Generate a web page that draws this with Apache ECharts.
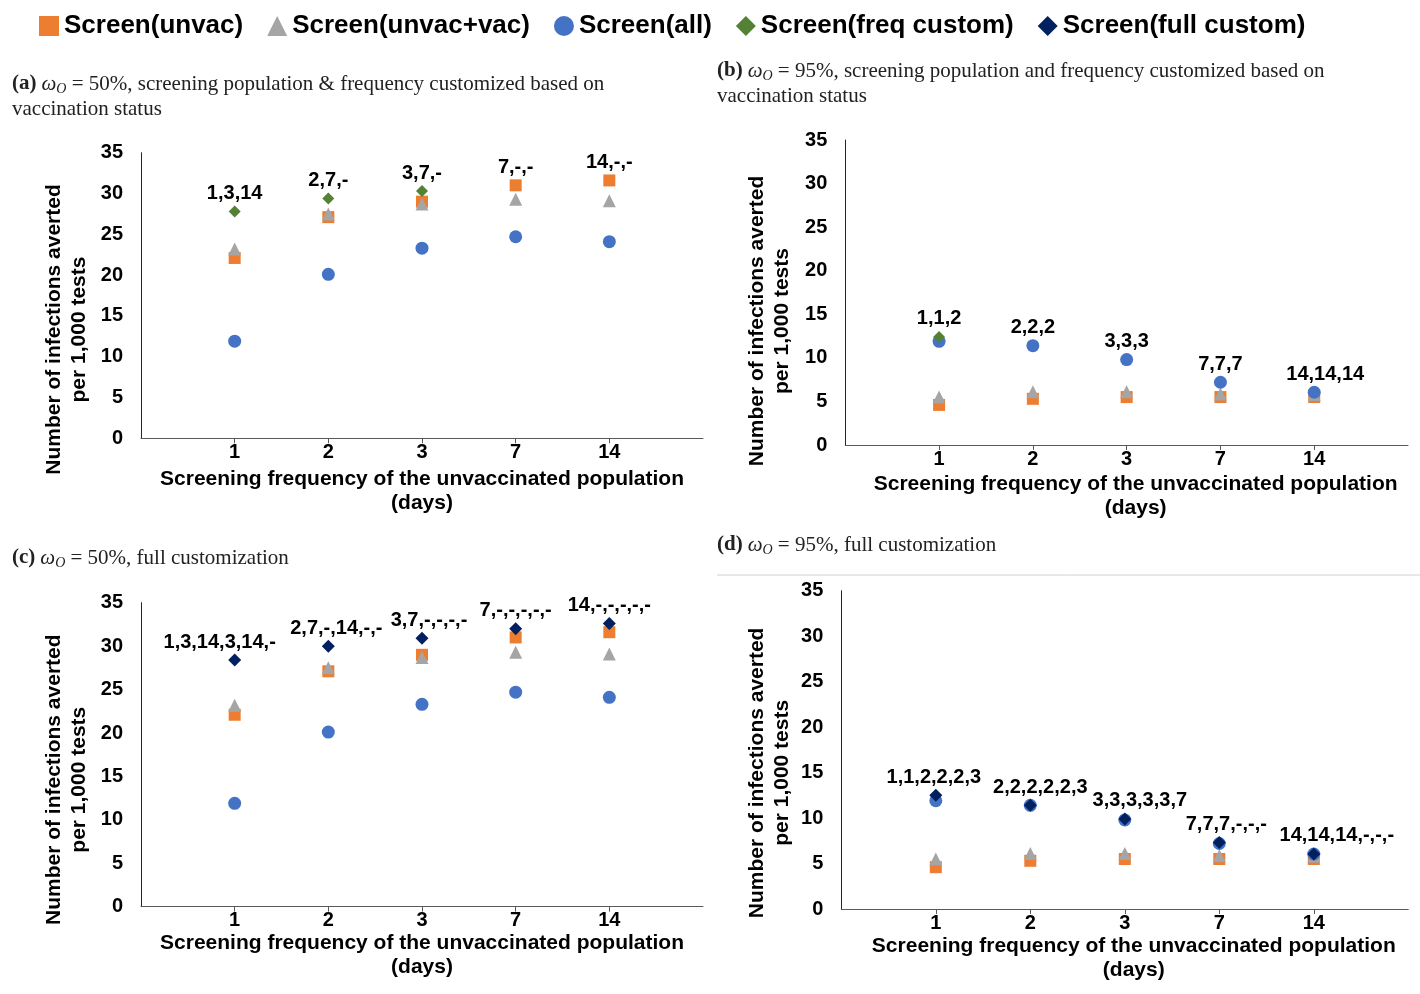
<!DOCTYPE html>
<html><head><meta charset="utf-8">
<script src="https://cdn.jsdelivr.net/npm/echarts@6/dist/echarts.min.js"></script>
<style>html,body{margin:0;padding:0;background:#fff}#c{width:1420px;height:994px}</style>
</head><body><div id="c"></div>
<script>
// ---------- data ----------
const categories = ['1', '2', '3', '7', '14'];
const seriesNames = ['Screen(unvac)', 'Screen(unvac+vac)', 'Screen(all)', 'Screen(freq custom)', 'Screen(full custom)'];

// omega_O = 50%
const unvac50 = [22.1, 27.1, 29.0, 31.0, 31.6];
const unvacVac50 = [23.2, 27.5, 28.7, 29.3, 29.1];
const all50 = [11.9, 20.1, 23.3, 24.7, 24.1];
const freqCustom50 = [27.8, 29.4, 30.3, null, null];
const fullCustom50 = [28.4, 30.0, 30.9, 32.0, 32.6];
const labelsA = ['1,3,14', '2,7,-', '3,7,-', '7,-,-', '14,-,-'];
const labelsC = ['1,3,14,3,14,-', '2,7,-,14,-,-', '3,7,-,-,-,-', '7,-,-,-,-,-', '14,-,-,-,-,-'];

// omega_O = 95%
const unvac95 = [4.6, 5.3, 5.5, 5.5, 5.5];
const unvacVac95 = [5.5, 6.1, 6.1, 5.85, 5.8];
const all95 = [11.9, 11.4, 9.8, 7.2, 6.05];
const freqCustom95 = [12.4, null, null, null, null];
const fullCustom95 = [12.5, 11.4, 9.9, 7.3, 6.05];
const labelsB = ['1,1,2', '2,2,2', '3,3,3', '7,7,7', '14,14,14'];
const labelsD = ['1,1,2,2,2,3', '2,2,2,2,2,3', '3,3,3,3,3,7', '7,7,7,-,-,-', '14,14,14,-,-,-'];

const yAxisTitle = 'Number of infections averted\nper 1,000 tests';
const xAxisTitle = 'Screening frequency of the unvaccinated population\n(days)';

// ---------- style / layout ----------
const SANS = '"Liberation Sans", Arial, sans-serif';
const SERIF = '"Liberation Serif", "Times New Roman", serif';
const colors = ['#ED7D31', '#A5A5A5', '#4472C4', '#548235', '#002060'];
const symbols = ['rect', 'triangle', 'circle', 'diamond', 'diamond'];
const symSizes = [12, 13, 13, 12, 13];

const panels = [
  { series: [unvac50, unvacVac50, all50, freqCustom50, null], labels: labelsA,
    title: { tag: '(a)', pct: '50%', rest: ', screening population & frequency customized based on', line2: 'vaccination status', left: 12, top: 71.5 },
    grid: { left: 141, top: 152.7, width: 562, height: 285.6 },
    yNameGap: 49, yNameShift: 68, xNameGap: 29, xNameShift: 0, labelDx: [0, 0, 0, 0, 0] },
  { series: [unvac95, unvacVac95, all95, freqCustom95, null], labels: labelsB,
    title: { tag: '(b)', pct: '95%', rest: ', screening population and frequency customized based on', line2: 'vaccination status', left: 717, top: 58.5 },
    grid: { left: 845.3, top: 140, width: 562.7, height: 305 },
    yNameGap: 51, yNameShift: 57, xNameGap: 27, xNameShift: 18, labelDx: [0, 0, 0, 0, 11] },
  { series: [unvac50, unvacVac50, all50, null, fullCustom50], labels: labelsC,
    title: { tag: '(c)', pct: '50%', rest: ', full customization', line2: null, left: 12, top: 545.5 },
    grid: { left: 141, top: 602.7, width: 562, height: 304 },
    yNameGap: 49, yNameShift: 50, xNameGap: 24, xNameShift: 0, labelDx: [-15, 8, 7, 0, 0] },
  { series: [unvac95, unvacVac95, all95, null, fullCustom95], labels: labelsD,
    title: { tag: '(d)', pct: '95%', rest: ', full customization', line2: null, left: 717, top: 532.5 },
    grid: { left: 841.3, top: 590.7, width: 567, height: 318.3 },
    yNameGap: 47, yNameShift: 46, xNameGap: 25, xNameShift: 18, labelDx: [-2, 10, 15, 7, 23] }
];

const axisCats = [''].concat(categories, ['']);
const pad = arr => [null].concat(arr, [null]);

const option = {
  animation: false,
  backgroundColor: '#fff',
  legend: {
    top: 8, left: 34, itemWidth: 20, itemHeight: 20, itemGap: 24,
    data: seriesNames.map((n, i) => ({ name: n, icon: symbols[i] })),
    textStyle: { fontFamily: SANS, fontWeight: 'bold', fontSize: 26, color: '#000' }
  },
  title: [], grid: [], xAxis: [], yAxis: [], series: [],
  graphic: [{ type: 'line', shape: { x1: 717, y1: 575, x2: 1420, y2: 575 }, style: { stroke: '#d0d0d0', lineWidth: 1 } }]
};

const titleRich = {
  b: { fontFamily: SERIF, fontWeight: 'bold', fontSize: 21, color: '#222', lineHeight: 25 },
  i: { fontFamily: SERIF, fontWeight: 'normal', fontStyle: 'italic', fontSize: 21, color: '#222', lineHeight: 25 },
  s: { fontFamily: SERIF, fontWeight: 'normal', fontStyle: 'italic', fontSize: 14, color: '#222', lineHeight: 14, verticalAlign: 'bottom' },
  n: { fontFamily: SERIF, fontWeight: 'normal', fontSize: 21, color: '#222', lineHeight: 25 }
};

panels.forEach((p, k) => {
  const t = p.title;
  let txt = '{b|' + t.tag + '} {i|ω}{s|O}{n| = ' + t.pct + t.rest + '}';
  if (t.line2) txt += '\n{n|' + t.line2 + '}';
  option.title.push({ left: t.left, top: t.top, text: txt, padding: 0, textStyle: { fontWeight: 'normal', rich: titleRich } });

  option.grid.push(Object.assign({ containLabel: false }, p.grid));
  option.xAxis.push({
    type: 'category', gridIndex: k, data: axisCats, boundaryGap: false,
    axisLine: { lineStyle: { color: '#595959', width: 1 } },
    axisTick: { show: true, length: 5, interval: (idx) => idx > 0 && idx < axisCats.length - 1, lineStyle: { color: '#595959' } },
    axisLabel: { interval: 0, margin: 4, fontFamily: SANS, fontWeight: 'bold', fontSize: 20, color: '#000' },
    splitLine: { show: false },
    name: xAxisTitle, nameLocation: 'middle', nameGap: p.xNameGap,
    nameTextStyle: { fontFamily: SANS, fontWeight: 'bold', fontSize: 21, color: '#000', lineHeight: 24, padding: [0, 0, 0, p.xNameShift] }
  });
  option.yAxis.push({
    type: 'value', gridIndex: k, min: 0, max: 35, interval: 5,
    axisLine: { show: true, lineStyle: { color: '#262626', width: 1 } },
    axisTick: { show: false },
    splitLine: { show: false },
    axisLabel: { margin: 18, fontFamily: SANS, fontWeight: 'bold', fontSize: 20, color: '#000' },
    name: yAxisTitle, nameLocation: 'middle', nameGap: p.yNameGap,
    nameTextStyle: { fontFamily: SANS, fontWeight: 'bold', fontSize: 21, color: '#000', lineHeight: 25, padding: [0, p.yNameShift, 0, 0] }
  });

  p.series.forEach((vals, si) => {
    if (!vals) return;
    option.series.push({
      type: 'scatter', name: seriesNames[si], xAxisIndex: k, yAxisIndex: k,
      symbol: symbols[si], symbolSize: symSizes[si], z: 2 + si,
      itemStyle: { color: colors[si], opacity: 1 },
      data: pad(vals)
    });
  });

  // label anchors: top-most point of each category
  const anchors = categories.map((c, ci) => {
    let m = null;
    p.series.forEach(v => { if (v && v[ci] != null) m = (m == null) ? v[ci] : Math.max(m, v[ci]); });
    return m;
  });
  option.series.push({
    type: 'scatter', name: '_labels', xAxisIndex: k, yAxisIndex: k, symbolSize: 12, z: 20, silent: true,
    itemStyle: { color: '#fff', opacity: 0 },
    emphasis: { disabled: true },
    data: pad(anchors.map((v, i) => ({ value: v, label: { offset: [p.labelDx[i], 0] } }))),
    label: {
      show: true, position: 'top', distance: 2, opacity: 1,
      formatter: (q) => p.labels[q.dataIndex - 1],
      fontFamily: SANS, fontWeight: 'bold', fontSize: 20, color: '#000', textBorderWidth: 0
    }
  });
});

const chart = echarts.init(document.getElementById('c'), null, { renderer: 'canvas' });
chart.setOption(option);
</script>
</body></html>
